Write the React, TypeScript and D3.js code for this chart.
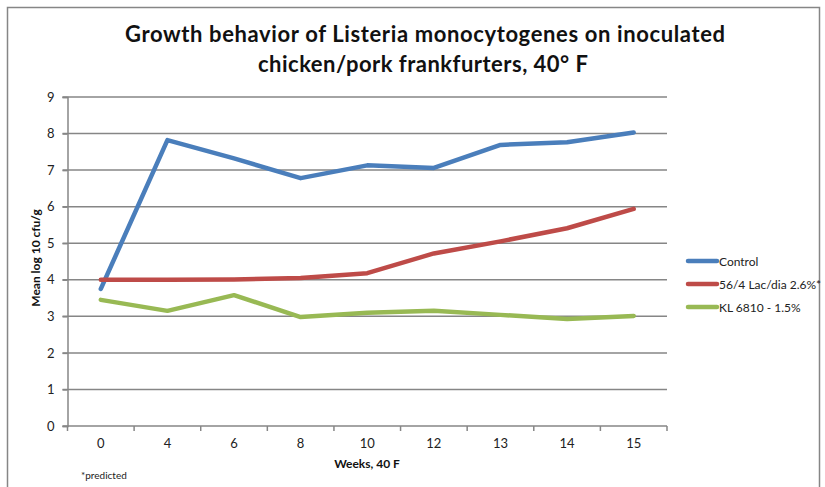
import React, { useEffect, useRef } from 'react';
import * as d3 from 'd3';

const weeks = ['0', '4', '6', '8', '10', '12', '13', '14', '15'];
const controlValues = [3.75, 7.82, 7.32, 6.78, 7.13, 7.06, 7.69, 7.76, 8.03];
const lacDiaValues = [4.0, 4.0, 4.01, 4.05, 4.18, 4.72, 5.05, 5.41, 5.94];
const klValues = [3.45, 3.15, 3.58, 2.98, 3.1, 3.15, 3.04, 2.93, 3.01];
const yTicks = [0, 1, 2, 3, 4, 5, 6, 7, 8, 9];

const seriesList = [
  { name: 'Control', values: controlValues, color: '#4A7EBB' },
  { name: '56/4 Lac/dia 2.6%*', values: lacDiaValues, color: '#BE4B48' },
  { name: 'KL 6810 - 1.5%', values: klValues, color: '#98B954' },
];

const W = 825;
const H = 487;
const FONT = 'Lato, "Open Sans", sans-serif';

export default function App() {
  const svgRef = useRef<SVGSVGElement | null>(null);

  useEffect(() => {
    if (!svgRef.current) return;
    const svg = d3.select(svgRef.current);
    svg.selectAll('*').remove();

    const left = 67.5;
    const right = 667;
    const top = 97;
    const bottom = 426;

    // Outer chart frame
    svg.append('rect')
      .attr('x', 7.5).attr('y', 7.5)
      .attr('width', 812).attr('height', 500)
      .attr('fill', '#fff')
      .attr('stroke', '#868686')
      .attr('stroke-width', 1.5);

    const x = d3.scaleBand().domain(weeks).range([left, right]);
    const y = d3.scaleLinear().domain([0, 9]).range([bottom, top]);

    // Gridlines
    svg.append('g')
      .selectAll('line')
      .data(yTicks.filter(t => t > 0))
      .join('line')
      .attr('x1', left - 5).attr('x2', right)
      .attr('y1', d => y(d)).attr('y2', d => y(d))
      .attr('stroke', '#868686')
      .attr('stroke-width', 1.5);

    // Y axis
    const yAxis = svg.append('g')
      .attr('transform', `translate(${left},0)`)
      .call(d3.axisLeft(y).tickValues(yTicks).tickSize(5).tickPadding(8));
    yAxis.select('.domain').attr('stroke', '#868686').attr('stroke-width', 1.5);
    yAxis.selectAll('.tick line').attr('stroke', '#868686').attr('stroke-width', 1.5);
    yAxis.selectAll('.tick text')
      .attr('font-family', FONT).attr('font-size', 13).attr('fill', '#222');

    // X axis
    const xTickPositions = d3.range(weeks.length + 1).map(i => left + i * x.bandwidth());
    const xAxis = svg.append('g');
    xAxis.append('line')
      .attr('x1', left - 5).attr('x2', right)
      .attr('y1', bottom).attr('y2', bottom)
      .attr('stroke', '#868686').attr('stroke-width', 1.5);
    xAxis.selectAll('line.tick')
      .data(xTickPositions)
      .join('line')
      .attr('class', 'tick')
      .attr('x1', d => d).attr('x2', d => d)
      .attr('y1', bottom).attr('y2', bottom + 5)
      .attr('stroke', '#868686').attr('stroke-width', 1.5);
    xAxis.selectAll('text')
      .data(weeks)
      .join('text')
      .attr('x', d => (x(d) as number) + x.bandwidth() / 2)
      .attr('y', 448)
      .attr('text-anchor', 'middle')
      .attr('font-family', FONT).attr('font-size', 13).attr('fill', '#222')
      .text(d => d);

    // Lines
    const line = d3.line<number>()
      .x((_, i) => (x(weeks[i]) as number) + x.bandwidth() / 2)
      .y(d => y(d));

    seriesList.forEach(s => {
      svg.append('path')
        .datum(s.values)
        .attr('d', line)
        .attr('fill', 'none')
        .attr('stroke', s.color)
        .attr('stroke-width', 4.5)
        .attr('stroke-linejoin', 'round')
        .attr('stroke-linecap', 'round');
    });

    // Legend
    const legend = svg.append('g');
    seriesList.forEach((s, i) => {
      const ly = 261 + i * 23;
      legend.append('line')
        .attr('x1', 688).attr('x2', 717)
        .attr('y1', ly).attr('y2', ly)
        .attr('stroke', s.color).attr('stroke-width', 4.5)
        .attr('stroke-linecap', 'round');
      legend.append('text')
        .attr('x', 719).attr('y', ly + 4.5)
        .attr('font-family', FONT).attr('font-size', 12).attr('fill', '#222')
        .text(s.name);
    });

    // Title
    const title = svg.append('text')
      .attr('text-anchor', 'middle')
      .attr('font-family', FONT).attr('font-weight', 'bold')
      .attr('font-size', 22).attr('fill', '#111');
    title.append('tspan').attr('x', 425).attr('y', 42)
      .attr('textLength', 600).attr('lengthAdjust', 'spacing')
      .text('Growth behavior of Listeria monocytogenes on inoculated');
    title.append('tspan').attr('x', 423).attr('y', 72)
      .attr('textLength', 330).attr('lengthAdjust', 'spacing')
      .text('chicken/pork frankfurters, 40° F');

    // Axis titles
    svg.append('text')
      .attr('transform', `translate(40,258) rotate(-90)`)
      .attr('text-anchor', 'middle')
      .attr('font-family', FONT).attr('font-weight', 'bold')
      .attr('font-size', 12).attr('fill', '#111')
      .text('Mean log 10 cfu/g');

    svg.append('text')
      .attr('x', 367).attr('y', 468)
      .attr('text-anchor', 'middle')
      .attr('font-family', FONT).attr('font-weight', 'bold')
      .attr('font-size', 12).attr('fill', '#111')
      .text('Weeks, 40 F');

    svg.append('text')
      .attr('x', 81).attr('y', 479)
      .attr('font-family', FONT)
      .attr('font-size', 10).attr('fill', '#222')
      .text('*predicted');
  }, []);

  return (
    <div style={{ position: 'fixed', left: 0, top: 0 }}>
      <svg ref={svgRef} width={W} height={H} style={{ display: 'block', background: '#fff' }} />
    </div>
  );
}
